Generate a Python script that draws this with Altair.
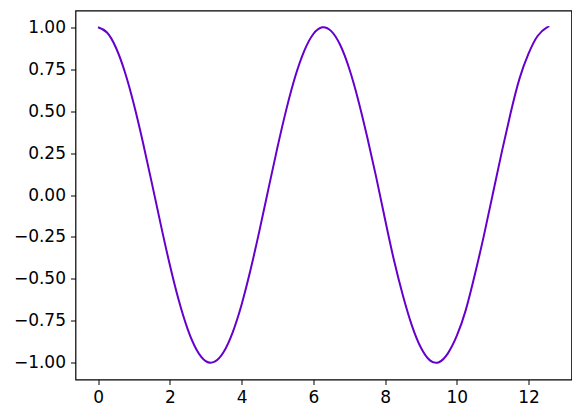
import altair as alt
import pandas as pd

x_vals = [0.0, 0.25, 0.5, 0.75, 1.0, 1.25, 1.5, 1.75, 2.0, 2.25, 2.5, 2.75, 3.0,
          3.25, 3.5, 3.75, 4.0, 4.25, 4.5, 4.75, 5.0, 5.25, 5.5, 5.75, 6.0, 6.25,
          6.5, 6.75, 7.0, 7.25, 7.5, 7.75, 8.0, 8.25, 8.5, 8.75, 9.0, 9.25,
          9.5, 9.75, 10.0, 10.25, 10.5, 10.75, 11.0, 11.25, 11.5, 11.75, 12.0, 12.25,
          12.5, 12.57]
y_vals = [1.000, 0.969, 0.878, 0.732, 0.540, 0.315, 0.071, -0.178, -0.416, -0.628, -0.801, -0.924, -0.990,
          -0.994, -0.936, -0.820, -0.654, -0.446, -0.211, 0.038, 0.284, 0.512, 0.709, 0.861, 0.960, 1.000,
          0.977, 0.894, 0.754, 0.567, 0.347, 0.108, -0.146, -0.391, -0.602, -0.780, -0.911, -0.986,
          -0.997, -0.944, -0.839, -0.685, -0.476, -0.245, 0.004, 0.254, 0.490, 0.697, 0.844, 0.948,
          0.998, 1.000]

x_ticks = [0, 2, 4, 6, 8, 10, 12]
y_ticks = [-1.0, -0.75, -0.5, -0.25, 0.0, 0.25, 0.5, 0.75, 1.0]

df = pd.DataFrame({"x": x_vals, "y": y_vals})

chart = alt.Chart(df).mark_line(
    color="#6600cc", strokeWidth=2, interpolate="natural", clip=True
).encode(
    x=alt.X("x:Q", scale=alt.Scale(domain=[-0.628, 13.195], nice=False, zero=False),
            axis=alt.Axis(values=x_ticks, title=None, grid=False, domain=False,
                          tickSize=5, tickColor="black", labelPadding=5,
                          labelFontSize=17, labelFont="DejaVu Sans", labelColor="black",
                          format="d")),
    y=alt.Y("y:Q", scale=alt.Scale(domain=[-1.1, 1.1], nice=False, zero=False),
            axis=alt.Axis(values=y_ticks, title=None, grid=False, domain=False,
                          tickSize=5, tickColor="black", labelPadding=5,
                          labelFontSize=17, labelFont="DejaVu Sans", labelColor="black",
                          format=".2f",
                          labelExpr="replace(format(datum.value, '.2f'), '-', '\u2212')")),
).properties(
    width=496,
    height=369,
    background="white",
    autosize=alt.AutoSizeParams(type="none"),
    padding={"left": 67.5, "top": 2.5, "right": 0, "bottom": 30},
).configure_view(
    stroke="black", strokeWidth=1.2
)

chart.save("out.html", embed_options={"renderer": "svg", "actions": False})
